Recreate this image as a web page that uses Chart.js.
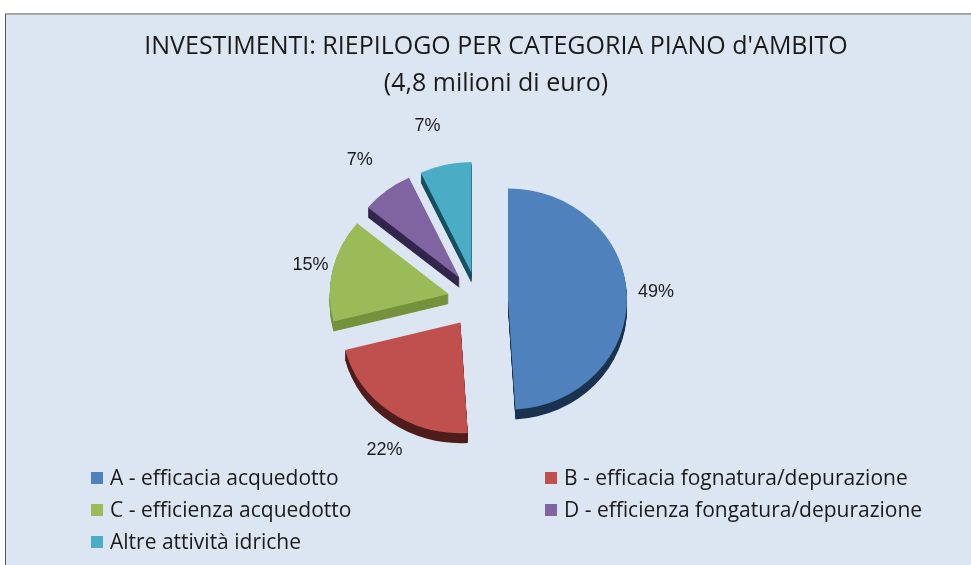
<!DOCTYPE html>
<html>
<head>
<meta charset="utf-8">
<title>Investimenti</title>
<script src="https://cdn.jsdelivr.net/npm/chart.js@4"></script>
<style>
html, body { margin: 0; padding: 0; background: #fff; overflow: hidden; }
#panel { position: absolute; left: 5px; top: 13px; width: 980px; height: 570px; box-sizing: border-box;
  background: #dce6f2; border-top: 2px solid #a6a6a6; border-left: 1px solid #555; }
#myChart { position: absolute; left: 0; top: 0; }
</style>
</head>
<body>
<div id="panel"></div>
<canvas id="myChart" width="971" height="565"></canvas>
<script>
const titleLines = ["INVESTIMENTI: RIEPILOGO PER CATEGORIA PIANO d'AMBITO", "(4,8 milioni di euro)"];
const categories = ["A - efficacia acquedotto", "B - efficacia fognatura/depurazione", "C - efficienza acquedotto", "D - efficienza fongatura/depurazione", "Altre attività idriche"];
const values = [49, 22, 15, 7, 7];

const colors = ['#4f81bd', '#c0504d', '#9bbb59', '#8064a2', '#4bacc6'];
const sideColors = ['#1b3350', '#4f1d1b', '#76923c', '#32274a', '#175060'];
// where each % label sits relative to the outer edge of its slice
const labelNudge = [[29, -4], [-6, 38], [-22, -5], [-27, -30], [-18, -39]];
const explode = 30, squash = 0.93, depth = 10, pieShift = -18;
const legendCols = [91, 545], legendRows = [478, 510, 542];
const textFont = '"Open Sans", sans-serif';

// exploded, slightly flattened pie with a dark extruded side
const pie3d = {
    id: 'pie3d',
    beforeDatasetDraw(chart, args) {
        const ctx = chart.ctx;
        args.meta.data.forEach((arc, i) => {
            const mid = (arc.startAngle + arc.endAngle) / 2;
            const dx = pieShift + Math.cos(mid) * explode;
            const dy = Math.sin(mid) * explode * squash;
            ctx.save();
            ctx.translate(arc.x + dx, arc.y + dy);
            ctx.scale(1, squash);
            ctx.fillStyle = sideColors[i];
            for (let k = depth; k > 0; k--) {
                ctx.beginPath();
                ctx.moveTo(0, k / squash);
                ctx.arc(0, k / squash, arc.outerRadius, arc.startAngle, arc.endAngle);
                ctx.closePath();
                ctx.fill();
            }
            ctx.translate(-arc.x, -arc.y);
            arc.draw(ctx);
            ctx.restore();
        });
        return false;
    },
    afterDraw(chart) {
        const ctx = chart.ctx;
        const arcs = chart.getDatasetMeta(0).data;
        ctx.save();
        ctx.textBaseline = 'middle';
        // percent labels
        ctx.font = '18px "Liberation Sans", sans-serif';
        ctx.fillStyle = '#1a1a1a';
        ctx.textAlign = 'center';
        arcs.forEach((arc, i) => {
            const mid = (arc.startAngle + arc.endAngle) / 2;
            const r = arc.outerRadius + explode;
            const x = arc.x + pieShift + Math.cos(mid) * r + labelNudge[i][0];
            const y = arc.y + Math.sin(mid) * r * squash + labelNudge[i][1];
            ctx.fillText(values[i] + '%', x, y);
        });
        // two column legend
        ctx.font = '21px ' + textFont;
        ctx.textAlign = 'left';
        categories.forEach((name, i) => {
            const x = legendCols[i % 2];
            const y = legendRows[Math.floor(i / 2)];
            ctx.fillStyle = colors[i];
            ctx.fillRect(x, y - 6, 12, 12);
            ctx.fillStyle = '#1a1a1a';
            ctx.fillText(name, x + 19, y + 1);
        });
        ctx.restore();
    }
};

let myChart = new Chart(document.getElementById('myChart'), {
    type: 'pie',
    data: {
        labels: categories,
        datasets: [{
            data: values,
            backgroundColor: colors,
            borderWidth: 0
        }]
    },
    options: {
        responsive: false,
        animation: false,
        radius: 119,
        layout: { padding: { left: 21, right: 0, top: 0, bottom: 72 } },
        plugins: {
            legend: { display: false },
            tooltip: { enabled: false },
            title: {
                display: true,
                text: titleLines,
                color: '#1a1a1a',
                font: { family: textFont, size: 25, weight: 'normal', lineHeight: 1.48 },
                padding: { top: 28, bottom: 5 }
            }
        }
    },
    plugins: [pie3d]
});
</script>
</body>
</html>
